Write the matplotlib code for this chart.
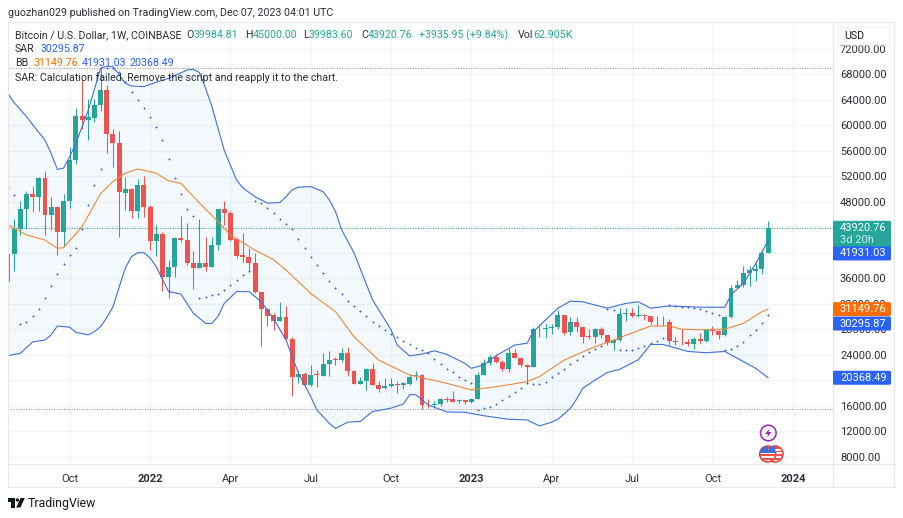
import numpy as np
import matplotlib
matplotlib.use("Agg")
import matplotlib.pyplot as plt
from matplotlib.patches import Rectangle, FancyBboxPatch, Circle, Polygon
from matplotlib.lines import Line2D
from matplotlib.transforms import Affine2D

plt.rcParams['font.family'] = ['Roboto', 'DejaVu Sans']

# --- weekly candles, thousands of USD, first candle week of 2021-07-26 ---
opens = [35.35,39.8,43.8,46.9,49.2,48.7,51.75,45.9,47.2,43.2,48.1,54.6,61.5,60.85,61.2,63.2,65.5,58.6,57.2,49.4,50.0,46.6,50.7,47.2,
         41.8,43.0,36.25,37.8,42.3,42.0,38.35,37.65,38.35,37.7,41.2,46.8,46.3,42.1,39.6,39.4,38.35,33.9,31.2,30.15,29.3,29.85,26.5,20.45,20.95,
         19.2,20.9,20.7,22.5,23.35,23.2,24.25,21.4,19.45,19.9,21.75,19.3,18.8,19.0,19.45,19.2,19.45,20.6,20.8,16.15,16.05,16.3,17.1,16.98,16.7,16.8,16.5,
         17.1,20.85,22.65,23.7,22.8,21.7,24.2,23.5,22.4,22.1,28.1,28.0,28.2,28.3,30.2,27.5,29.1,28.4,26.9,26.75,28.0,27.05,25.9,26.3,30.33,30.5,30.05,30.2,30.0,29.2,29.05,
         29.2,26.15,26.05,25.95,25.7,26.45,26.2,27.85,27.75,27.1,29.85,34.4,34.9,36.9,37.2,37.4,39.98]
highs = [40.5,45.3,48.1,49.75,50.5,51.9,52.85,48.7,47.3,49.2,56.6,62.8,67.1,64.15,64.15,69.0,66.3,59.4,59.2,51.95,50.1,51.6,52.0,47.5,
         44.4,43.3,38.9,42.4,45.8,44.6,40.2,45.3,42.5,42.5,46.9,48.2,46.5,42.3,43.05,40.8,39.9,34.0,31.3,30.5,32.3,31.65,26.7,21.6,21.3,
         22.4,21.6,24.2,24.6,23.7,25.0,25.15,21.6,20.5,21.85,22.75,19.9,20.3,20.4,19.9,19.7,20.9,21.4,20.9,17.1,16.7,17.25,17.4,18.3,17.0,16.95,17.25,
         21.2,23.3,24.0,24.1,23.15,25.1,24.9,23.7,22.5,28.4,28.8,28.8,28.8,31.0,30.3,29.85,29.85,28.5,28.0,28.15,28.4,27.1,26.5,31.3,31.4,31.4,31.8,30.4,30.1,30.0,30.1,
         29.55,26.8,28.1,26.5,26.8,27.35,28.0,28.5,27.9,30.0,35.0,35.8,37.9,37.9,38.4,40.5,45.0]
lows = [35.0,37.2,42.8,43.8,46.35,46.5,42.8,43.6,39.6,41.0,47.0,53.9,59.5,57.7,60.6,62.3,55.6,53.4,42.4,46.7,45.5,45.5,45.6,40.5,
        39.5,34.0,32.95,36.25,41.7,38.1,34.3,37.6,37.2,37.7,40.5,44.4,41.9,39.2,38.6,37.0,33.7,25.35,28.5,27.9,29.3,26.4,17.5,19.6,19.1,
        19.0,18.9,20.7,20.7,22.4,22.9,20.7,19.45,19.45,18.45,19.3,18.1,18.55,18.9,18.0,18.55,19.3,20.0,15.5,15.6,15.55,15.95,16.55,16.55,16.35,16.25,16.45,
        17.0,20.8,22.3,22.65,21.5,21.35,23.4,22.1,19.6,22.1,26.7,26.6,27.25,28.1,27.1,27.1,27.6,25.8,26.4,25.9,26.55,25.5,24.75,26.2,29.3,29.85,29.85,29.45,28.8,28.5,28.5,
        25.5,25.5,25.5,25.4,24.9,25.9,25.95,27.1,26.45,27.0,29.7,34.4,34.6,34.8,35.6,36.7,39.98]
closes = [39.8,43.8,46.9,49.2,48.7,51.75,45.9,47.2,43.2,48.1,54.6,61.5,60.85,61.3,63.2,65.5,58.6,57.2,49.5,50.0,46.6,50.7,47.2,41.8,
          43.0,36.25,37.8,42.3,42.0,38.35,37.65,38.35,37.7,41.2,46.8,46.3,42.0,39.5,39.3,38.35,33.9,31.2,30.05,29.3,29.85,26.45,20.45,20.95,19.2,
          20.75,20.8,22.5,23.2,23.2,24.25,21.4,19.45,19.9,21.75,19.3,18.65,19.05,19.35,19.2,19.5,20.55,20.8,16.15,16.05,16.3,17.1,16.8,16.56,16.9,16.56,17.1,
          20.85,22.65,23.7,22.9,21.7,24.2,23.5,22.3,22.1,28.0,28.0,28.2,28.3,30.2,27.45,29.1,28.4,26.8,26.75,28.0,27.05,25.9,26.3,30.33,30.5,30.0,30.2,30.0,29.2,29.05,29.2,
          26.15,26.0,25.95,25.7,26.45,26.2,27.85,27.75,27.1,29.85,34.4,34.95,36.9,37.3,37.4,39.9,43.92]

# --- Bollinger bands ---
upper_weeks = [0,1,3,5,6,7,8,9,10,11,13,15,16,17,18,19,20,22,24,26,29,30,31,32,33,35,37,38,40,42,44,45,46,47,49,51,52,53,54,56,59,62,63,65,67,69,71,74,75,77,79,82,84,85,89,91,93,97,100,102,104,107,112,116,117,119,121,123]
upper = [65.05,63.6,61.4,58.9,57.7,55.6,53.1,53.3,55.1,57.2,62.4,69.0,69.3,69.2,68.0,66.6,66.2,66.1,66.8,67.4,68.7,68.8,68.3,65.8,63.0,56.1,51.4,50.2,48.8,47.8,47.9,48.8,49.9,50.3,50.4,49.6,48.3,46.5,43.6,40.0,32.6,27.9,25.5,23.8,24.1,24.6,24.05,22.6,21.85,22.4,23.85,25.5,25.8,27.6,31.3,32.4,32.3,31.3,32.05,32.3,31.3,31.65,31.45,31.45,33.4,35.2,38.3,41.93]
lower_weeks = [0,2,4,6,7,8,10,11,13,14,15,16,17,18,19,20,21,22,23,24,26,28,30,32,33,34,35,37,39,41,43,45,47,49,50,52,53,55,57,59,62,64,65,66,68,71,74,77,81,84,86,88,89,91,92,93,95,97,99,102,104,106,110,113,116,119,121,123]
lower = [23.85,24.2,26.0,26.3,27.1,28.5,28.3,27.5,27.1,27.6,28.4,29.8,31.5,34.6,37.6,39.4,40.0,40.0,39.2,37.8,33.9,33.5,30.5,28.9,28.9,30.0,32.05,33.9,33.9,32.3,29.6,26.3,21.1,17.4,15.3,13.2,12.4,13.4,13.5,15.05,15.6,16.25,17.7,17.7,16.1,15.0,14.95,14.4,13.85,13.75,12.8,13.4,13.85,15.55,17.0,18.7,20.0,21.2,21.7,23.2,25.6,25.6,24.5,24.3,24.5,22.9,21.85,20.37]
basis_weeks = [0,3,6,8,9,12,15,17,19,21,24,26,28,31,34,36,40,43,45,49,53,56,60,65,71,75,80,84,86,90,95,98,104,107,109,112,116,119,122,123]
basis = [44.4,42.8,42.0,40.7,40.8,44.1,49.3,51.2,52.5,53.15,52.5,51.3,50.9,47.8,44.9,42.8,40.4,38.9,37.3,33.6,30.75,26.8,23.15,20.8,19.5,18.45,19.1,19.75,20.55,23.15,25.25,26.3,28.5,28.5,28.0,27.9,28.0,28.9,30.75,31.15]

# --- parabolic SAR ---
sar_weeks = [0,1,2,3,4,5,6,7,8,9,10,11,12,13,14,15,16,17,18,19,20,21,22,23,24,25,26,27,28,29,30,
             31,32,33,34,35,36,37,38,39,40,41,42,43,44,45,46,47,48,49,50,51,52,53,54,55,56,57,58,59,60,
             61,62,63,64,65,66,67,68,69,70,71,72,73,74,75,76,77,78,79,80,81,82,83,84,85,86,87,88,89,90,
             91,92,93,94,95,96,97,98,99,100,101,102,103,104,105,106,107,108,109,110,111,112,113,114,115,
             116,117,118,119,120,121,122,123]
sar = [50.3,49.0,28.75,29.2,30.05,31.2,32.85,34.8,36.6,38.3,39.6,40.7,43.8,47.5,50.65,53.2,69.0,69.0,68.4,66.9,65.3,64.0,62.7,61.4,59.8,57.7,54.8,51.8,49.2,46.9,45.8,
       32.9,33.1,33.4,33.6,34.2,35.0,35.8,36.5,37.2,48.2,47.8,47.0,46.2,45.3,44.5,43.75,42.2,40.7,39.4,38.1,36.8,35.6,34.5,33.5,32.5,31.65,30.8,30.0,29.2,28.55,
       27.9,27.25,26.7,26.15,25.6,25.1,24.7,24.2,23.3,22.5,21.75,21.3,20.55,20.0,19.6,15.3,15.6,15.8,16.25,16.9,17.5,18.2,18.7,19.5,19.4,19.4,19.75,20.45,21.05,21.75,
       22.5,23.15,23.8,24.35,24.9,25.4,31.2,31.0,24.7,24.7,24.8,25.05,25.4,25.8,26.15,26.55,31.8,31.7,31.55,31.45,31.3,31.2,30.85,30.55,30.3,
       24.75,24.9,25.35,26.05,27.05,27.9,28.9,30.2]

# --- axes text ---
price_ticks = [8,12,16,20,24,28,32,36,40,44,48,52,56,60,64,68,72]
date_weeks = [10,23,36,49,62,75,88,101,114,127]
date_labels = ['Oct','2022','Apr','Jul','Oct','2023','Apr','Jul','Oct','2024']
bold_labels = {'2022','2023','2024'}
all_time_high = 68.97
all_time_low = 15.45
last_price = 43.92

UP, DOWN = '#26a69a', '#ef5350'
BLUE, ORANGE = '#2962ff', '#ff6d00'
LINE_BLUE, LINE_ORANGE = '#3f6fdc', '#f0883a'
GRID, BORDER = '#f2f4f9', '#e6e8ef'
TEXT = '#2a2e39'
FS = 7.7

W, H = 904, 518
fig = plt.figure(figsize=(W/100, H/100), dpi=100, facecolor='white')
tp = Affine2D().scale(1/W, -1/H).translate(0, 1) + fig.transFigure   # figure pixels, y down

ax = fig.add_axes([8/W, (H-464)/H, 825/W, 442/H], zorder=0)
ax.set_xlim(0.016, 133.5)
ax.set_ylim(6822, 76246)
for s in ax.spines.values():
    s.set_visible(False)

weeks = np.arange(len(opens))
o, h, l, c = [np.array(a)*1000 for a in (opens, highs, lows, closes)]
colors = [UP if ci >= oi else DOWN for oi, ci in zip(o, c)]

ax.set_yticks(np.array(price_ticks)*1000)
ax.set_yticklabels([f'{t*1000:.2f}' for t in price_ticks], fontsize=8.0, color=TEXT)
ax.yaxis.tick_right()
ax.tick_params(axis='y', length=0, pad=5)
ax.set_xticks(date_weeks)
ax.set_xticklabels(date_labels, fontsize=8.0, color=TEXT)
for t in ax.get_xticklabels():
    if t.get_text() in bold_labels:
        t.set_fontweight('bold')
ax.tick_params(axis='x', length=0, pad=7)
ax.grid(True, color=GRID, lw=1)
ax.set_axisbelow(True)

# band fill, lines
poly_x = np.concatenate([upper_weeks, lower_weeks[::-1]])
poly_y = np.concatenate([upper, lower[::-1]])*1000
ax.fill(poly_x, poly_y, color='#2196f3', alpha=0.05, lw=0, zorder=1)
ax.plot(upper_weeks, np.array(upper)*1000, color=LINE_BLUE, lw=0.8, zorder=4)
ax.plot(lower_weeks, np.array(lower)*1000, color=LINE_BLUE, lw=0.8, zorder=4)
ax.plot(basis_weeks, np.array(basis)*1000, color=LINE_ORANGE, lw=0.8, zorder=4)

# reference lines
ax.axhline(all_time_high*1000, color='#8a8d96', lw=0.7, ls=(0, (1, 1.6)), zorder=2)
ax.axhline(all_time_low*1000, color='#8a8d96', lw=0.7, ls=(0, (1, 1.6)), zorder=2)
ax.axhline(last_price*1000, color=UP, lw=0.7, ls=(0, (1, 1.6)), zorder=2)

# candles
ax.vlines(weeks, l, h, colors=colors, lw=0.75, zorder=3)
ax.bar(weeks, c-o, bottom=o, width=0.8, color=colors, lw=0, zorder=3.5)

# SAR
ax.scatter(sar_weeks, np.array(sar)*1000, marker='+', s=3.5, linewidths=0.7, color='#3a62e8', zorder=5)

# frame lines, in pixels
for x0, y0, x1, y1 in [(8,22,895,22),(8,464,895,464),(8,487,895,487),(833,22,833,487),(894.5,22,894.5,487),(8,22,8,487)]:
    fig.add_artist(Line2D([x0, x1], [y0, y1], transform=tp, color=BORDER, lw=0.8, zorder=1))

def T(x, y, s, color=TEXT, size=FS, **kw):
    fig.text(x/W, 1-y/H, s, color=color, fontsize=size, va='center', ha='left', zorder=3, **kw)

# header
T(8, 13, 'guozhan029 published on TradingView.com, Dec 07, 2023 04:01 UTC')
T(15, 35, 'Bitcoin / U.S. Dollar, 1W, COINBASE')
for x, s, col in [(186,'O',TEXT),(194,'39984.81',UP),(245,'H',TEXT),(252.5,'45000.00',UP),(303,'L',TEXT),(309,'39983.60',UP),
                  (361,'C',TEXT),(368,'43920.76',UP),(419,'+3935.95 (+9.84%)',UP),(518,'Vol',TEXT),(533,'62.905K',UP)]:
    T(x, 35, s, color=col)
T(15, 49, 'SAR'); T(41, 49, '30295.87', color=BLUE)
T(15, 63, 'BB'); T(34, 63, '31149.76', color=ORANGE); T(82, 63, '41931.03', color=BLUE); T(130, 63, '20368.49', color=BLUE)
T(15, 78, 'SAR: Calculation failed. Remove the script and reapply it to the chart.')

# USD button
fig.add_artist(FancyBboxPatch((838, 27), 52, 18, boxstyle='round,pad=0,rounding_size=3', transform=tp,
                              fc='white', ec='#eceef3', lw=0.8, zorder=2))
T(844, 36, 'USD', color='#131722')

# price labels; TradingView pushes overlapping tags apart
fig.canvas.draw()
def value_to_py(v):
    return H - ax.transData.transform((0, v))[1]

def tag(v, col, s, extra=None, shift=0):
    py = value_to_py(v) + shift
    bot = py + 7 + (18 if extra else 0)
    fig.add_artist(FancyBboxPatch((833, py-7), 58, bot-(py-7), boxstyle='round,pad=0,rounding_size=1.5', transform=tp,
                                  fc=col, ec='none', zorder=2))
    T(840, py, s, color='white', size=8.0)
    if extra:
        T(840, py+12, extra, color='#c8ece8', size=8.0)

tag(last_price*1000, UP, '43920.76', '3d 20h')
tag(41931.03, BLUE, '41931.03', shift=13)
tag(31149.76, ORANGE, '31149.76')
tag(30295.87, BLUE, '30295.87', shift=9)
tag(20368.49, BLUE, '20368.49')

# event icons
fig.add_artist(Circle((768.3, 433), 7.8, transform=tp, fc='white', ec='#9c27b0', lw=1.1, zorder=2))
fig.add_artist(Polygon([(769.5,428.5),(765,434),(768,434),(767,437.5),(771.5,432),(768.5,432)], closed=True, transform=tp,
                       fc='#9c27b0', ec='none', zorder=3))
for cx in (775, 767.7):
    rim = Circle((cx, 454), 8, transform=tp, fc='white', ec='#e53935', lw=1.1, zorder=2)
    fig.add_artist(rim)
    for k in range(4):
        st = Rectangle((cx-8, 447+k*3.6), 16, 1.8, transform=tp, fc='#ef5350', ec='none', zorder=2.1)
        fig.add_artist(st)
        st.set_clip_path(rim)
    cant = Rectangle((cx-8, 446), 8, 7, transform=tp, fc='#3f6fdc', ec='none', zorder=2.2)
    fig.add_artist(cant)
    cant.set_clip_path(rim)

# footer logo
fig.add_artist(Polygon([(8,498),(15,498),(15,507.5),(11.5,507.5),(11.5,501.5),(8,501.5)], closed=True, transform=tp, fc='#131722', ec='none', zorder=3))
fig.add_artist(Circle((17.3, 500), 1.7, transform=tp, fc='#131722', ec='none', zorder=3))
fig.add_artist(Polygon([(20.5,498),(24.8,498),(20.5,507.5),(16.2,507.5)], closed=True, transform=tp, fc='#131722', ec='none', zorder=3))
T(28, 503, 'TradingView', color='#131722', size=8.8)

fig.savefig('out.png', dpi=100, facecolor='white')
